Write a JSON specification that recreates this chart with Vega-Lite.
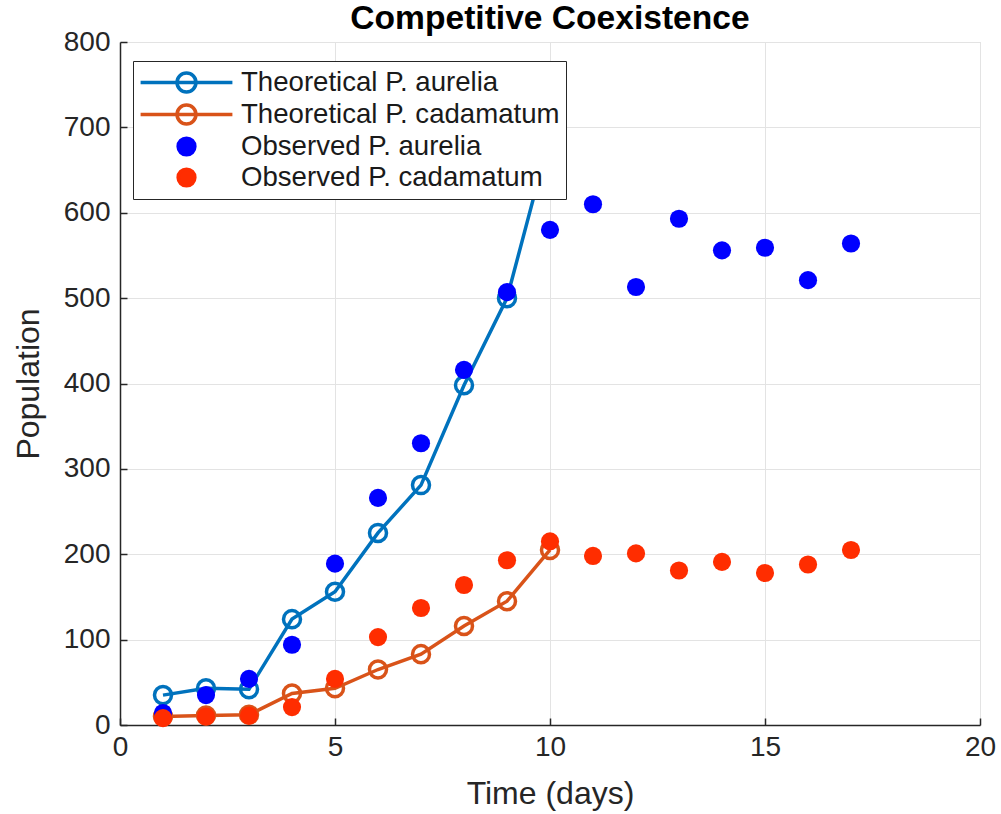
{
  "$schema": "https://vega.github.io/schema/vega-lite/v6.json",
  "description": "Competitive coexistence of two Paramecium species, theory vs observation",
  "width": 860,
  "height": 683,
  "autosize": {"type": "none"},
  "padding": {"left": 120, "top": 42, "right": 21, "bottom": 89},
  "title": {
    "text": "Competitive Coexistence",
    "fontSize": 33.6,
    "font": "Liberation Sans",
    "fontWeight": "bold",
    "color": "#000000",
    "offset": -8
  },
  "data": {
    "values": [
      {"day": 1, "series": "Theoretical P. aurelia", "population": 35},
      {"day": 2, "series": "Theoretical P. aurelia", "population": 43},
      {"day": 3, "series": "Theoretical P. aurelia", "population": 42},
      {"day": 4, "series": "Theoretical P. aurelia", "population": 124},
      {"day": 5, "series": "Theoretical P. aurelia", "population": 156},
      {"day": 6, "series": "Theoretical P. aurelia", "population": 225},
      {"day": 7, "series": "Theoretical P. aurelia", "population": 281},
      {"day": 8, "series": "Theoretical P. aurelia", "population": 398},
      {"day": 9, "series": "Theoretical P. aurelia", "population": 500},
      {"day": 10, "series": "Theoretical P. aurelia", "population": 690},
      {"day": 1, "series": "Theoretical P. cadamatum", "population": 10},
      {"day": 2, "series": "Theoretical P. cadamatum", "population": 11},
      {"day": 3, "series": "Theoretical P. cadamatum", "population": 12},
      {"day": 4, "series": "Theoretical P. cadamatum", "population": 37},
      {"day": 5, "series": "Theoretical P. cadamatum", "population": 43},
      {"day": 6, "series": "Theoretical P. cadamatum", "population": 65},
      {"day": 7, "series": "Theoretical P. cadamatum", "population": 83},
      {"day": 8, "series": "Theoretical P. cadamatum", "population": 116},
      {"day": 9, "series": "Theoretical P. cadamatum", "population": 145},
      {"day": 10, "series": "Theoretical P. cadamatum", "population": 205},
      {"day": 1, "series": "Observed P. aurelia", "population": 14},
      {"day": 2, "series": "Observed P. aurelia", "population": 35},
      {"day": 3, "series": "Observed P. aurelia", "population": 54},
      {"day": 4, "series": "Observed P. aurelia", "population": 94},
      {"day": 5, "series": "Observed P. aurelia", "population": 189},
      {"day": 6, "series": "Observed P. aurelia", "population": 266},
      {"day": 7, "series": "Observed P. aurelia", "population": 330},
      {"day": 8, "series": "Observed P. aurelia", "population": 416},
      {"day": 9, "series": "Observed P. aurelia", "population": 507},
      {"day": 10, "series": "Observed P. aurelia", "population": 580},
      {"day": 11, "series": "Observed P. aurelia", "population": 610},
      {"day": 12, "series": "Observed P. aurelia", "population": 513},
      {"day": 13, "series": "Observed P. aurelia", "population": 593},
      {"day": 14, "series": "Observed P. aurelia", "population": 556},
      {"day": 15, "series": "Observed P. aurelia", "population": 559},
      {"day": 16, "series": "Observed P. aurelia", "population": 521},
      {"day": 17, "series": "Observed P. aurelia", "population": 564},
      {"day": 1, "series": "Observed P. cadamatum", "population": 8},
      {"day": 2, "series": "Observed P. cadamatum", "population": 10},
      {"day": 3, "series": "Observed P. cadamatum", "population": 11},
      {"day": 4, "series": "Observed P. cadamatum", "population": 21},
      {"day": 5, "series": "Observed P. cadamatum", "population": 54},
      {"day": 6, "series": "Observed P. cadamatum", "population": 103},
      {"day": 7, "series": "Observed P. cadamatum", "population": 137},
      {"day": 8, "series": "Observed P. cadamatum", "population": 164},
      {"day": 9, "series": "Observed P. cadamatum", "population": 193},
      {"day": 10, "series": "Observed P. cadamatum", "population": 215},
      {"day": 11, "series": "Observed P. cadamatum", "population": 198},
      {"day": 12, "series": "Observed P. cadamatum", "population": 201},
      {"day": 13, "series": "Observed P. cadamatum", "population": 181},
      {"day": 14, "series": "Observed P. cadamatum", "population": 191},
      {"day": 15, "series": "Observed P. cadamatum", "population": 178},
      {"day": 16, "series": "Observed P. cadamatum", "population": 188},
      {"day": 17, "series": "Observed P. cadamatum", "population": 205}
    ]
  },
  "encoding": {
    "x": {
      "field": "day",
      "type": "quantitative",
      "scale": {"domain": [0, 20], "nice": false},
      "axis": {"title": "Time (days)", "values": [0, 5, 10, 15, 20], "titlePadding": 17}
    },
    "y": {
      "field": "population",
      "type": "quantitative",
      "scale": {"domain": [0, 800], "nice": false},
      "axis": {"title": "Population", "values": [0, 100, 200, 300, 400, 500, 600, 700, 800], "titlePadding": 18}
    },
    "color": {
      "field": "series",
      "type": "nominal",
      "scale": {
        "domain": ["Theoretical P. aurelia", "Theoretical P. cadamatum", "Observed P. aurelia", "Observed P. cadamatum"],
        "range": ["#0072BD", "#D95319", "#0000FF", "#FF2D00"]
      },
      "legend": {
        "title": null,
        "orient": "none",
        "legendX": 13,
        "legendY": 19,
        "padding": 6,
        "rowPadding": -1,
        "fillColor": "#ffffff",
        "strokeColor": "#262626",
        "labelFontSize": 27.6,
        "labelFont": "Liberation Sans",
        "labelColor": "#1a1a1a",
        "labelLimit": 600,
        "labelOffset": 39,
        "symbolOffset": 32,
        "symbolSize": 729,
        "symbolStrokeWidth": 3.5,
        "symbolOpacity": 1,
        "encode": {
          "symbols": {
            "update": {
              "size": {"value": 729},
              "strokeWidth": {"value": 3.5},
              "opacity": {"value": 1},
              "shape": {"signal": "indexof(datum.value, 'Theoretical') === 0 ? 'M-3.4,0L3.4,0M0.7,0A0.7,0.7 0 1 1 -0.7,0A0.7,0.7 0 1 1 0.7,0' : 'M0.62,0A0.62,0.62 0 1 1 -0.62,0A0.62,0.62 0 1 1 0.62,0Z'"},
              "fill": {"signal": "indexof(datum.value, 'Theoretical') === 0 ? 'transparent' : scale('color', datum.value)"},
              "fillOpacity": {"signal": "indexof(datum.value, 'Theoretical') === 0 ? 0 : 1"},
              "stroke": {"signal": "scale('color', datum.value)"}
            }
          }
        }
      }
    }
  },
  "layer": [
    {
      "transform": [{"filter": "indexof(datum.series, 'Theoretical') === 0"}],
      "mark": {"type": "line", "strokeWidth": 3.5}
    },
    {
      "transform": [{"filter": "indexof(datum.series, 'Theoretical') === 0"}],
      "mark": {"type": "point", "shape": "circle", "filled": false, "strokeWidth": 3.5, "size": 290, "opacity": 1}
    },
    {
      "transform": [{"filter": "indexof(datum.series, 'Observed') === 0"}],
      "mark": {"type": "point", "shape": "circle", "filled": true, "size": 330, "opacity": 1}
    }
  ],
  "config": {
    "font": "Liberation Sans",
    "view": {"stroke": "#d4d4d4", "strokeWidth": 1},
    "axis": {
      "labelFontSize": 28,
      "labelColor": "#262626",
      "labelFlush": false,
      "titleFontSize": 32,
      "titleFontWeight": "normal",
      "titleColor": "#262626",
      "domainColor": "#262626",
      "domainWidth": 1.5,
      "tickColor": "#262626",
      "tickSize": -7,
      "tickWidth": 1.5,
      "gridColor": "#e3e3e3",
      "gridWidth": 1
    },
    "axisX": {"labelPadding": 15},
    "axisY": {"labelPadding": 17}
  }
}
